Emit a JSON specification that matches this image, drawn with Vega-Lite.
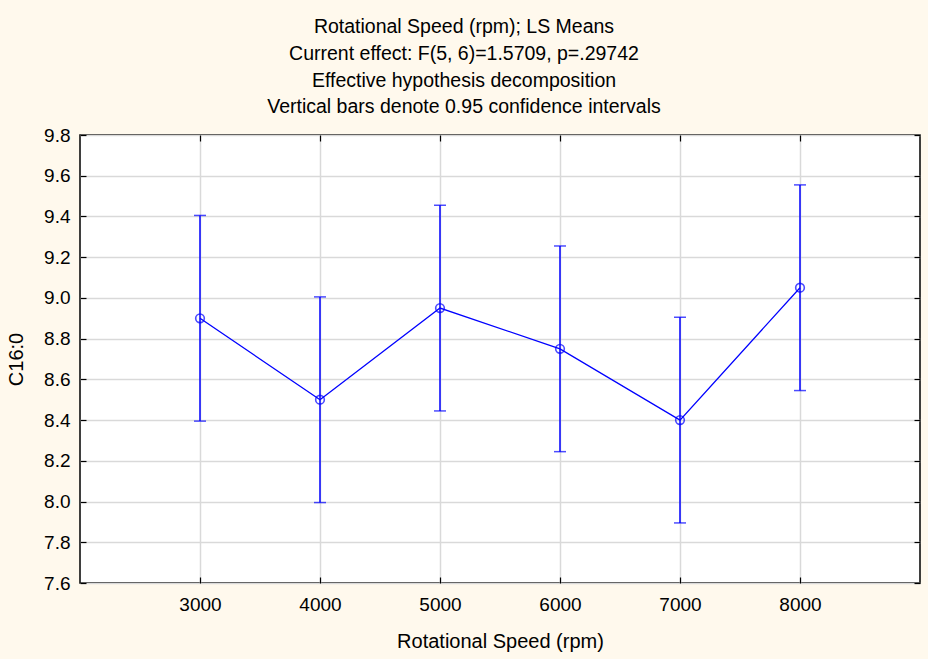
{
  "$schema": "https://vega.github.io/schema/vega-lite/v6.json",
  "width": 840,
  "height": 448,
  "autosize": {"type": "none"},
  "padding": {"left": 80, "top": 135, "right": 8, "bottom": 76},
  "background": "#FFF9ED",
  "title": {
    "text": ["Rotational Speed (rpm); LS Means", "Current effect: F(5, 6)=1.5709, p=.29742", "Effective hypothesis decomposition", "Vertical bars denote 0.95 confidence intervals"],
    "font": "Liberation Sans",
    "fontSize": 19.5,
    "fontWeight": "normal",
    "color": "#000000",
    "lineHeight": 26.7,
    "anchor": "middle",
    "dx": -36,
    "offset": 8
  },
  "config": {
    "view": {"fill": "#FFFFFF", "stroke": "#000000", "strokeWidth": 1.5},
    "axis": {
      "labelFont": "Liberation Sans",
      "titleFont": "Liberation Sans",
      "labelFontSize": 19,
      "titleFontSize": 20,
      "titleFontWeight": "normal",
      "labelColor": "#000000",
      "titleColor": "#000000",
      "domain": false,
      "tickColor": "#000000",
      "tickWidth": 1.2,
      "gridColor": "#D9D9D9",
      "gridWidth": 1.5,
      "gridOpacity": 1
    }
  },
  "data": {
    "values": [
      {"rpm": 3000, "mean": 8.90, "lo": 8.395, "hi": 9.405},
      {"rpm": 4000, "mean": 8.50, "lo": 7.995, "hi": 9.005},
      {"rpm": 5000, "mean": 8.95, "lo": 8.445, "hi": 9.455},
      {"rpm": 6000, "mean": 8.75, "lo": 8.245, "hi": 9.255},
      {"rpm": 7000, "mean": 8.40, "lo": 7.895, "hi": 8.905},
      {"rpm": 8000, "mean": 9.05, "lo": 8.545, "hi": 9.555}
    ]
  },
  "layer": [
    {
      "layer": [
        {
          "mark": {"type": "rule", "color": "#0000FF", "strokeWidth": 1.5},
          "encoding": {
            "x": {
              "field": "rpm", "type": "quantitative",
              "scale": {"domain": [2000, 9000], "nice": false, "zero": false},
              "axis": {
                "values": [3000, 4000, 5000, 6000, 7000, 8000],
                "format": "d",
                "title": "Rotational Speed (rpm)",
                "tickSize": -6,
                "labelPadding": 18,
                "titlePadding": 17,
                "grid": true
              }
            },
            "y": {
              "field": "lo", "type": "quantitative",
              "scale": {"domain": [7.6, 9.8], "nice": false, "zero": false},
              "axis": {
                "values": [7.6, 7.8, 8.0, 8.2, 8.4, 8.6, 8.8, 9.0, 9.2, 9.4, 9.6, 9.8],
                "format": ".1f",
                "title": "C16:0",
                "tickSize": -6,
                "labelPadding": 16,
                "titlePadding": 17,
                "grid": true
              }
            },
            "y2": {"field": "hi"}
          }
        },
        {
          "mark": {"type": "tick", "orient": "horizontal", "color": "#0000FF", "size": 12, "thickness": 1.5},
          "encoding": {
            "x": {"field": "rpm", "type": "quantitative"},
            "y": {"field": "lo", "type": "quantitative"}
          }
        },
        {
          "mark": {"type": "tick", "orient": "horizontal", "color": "#0000FF", "size": 12, "thickness": 1.5},
          "encoding": {
            "x": {"field": "rpm", "type": "quantitative"},
            "y": {"field": "hi", "type": "quantitative"}
          }
        },
        {
          "mark": {"type": "line", "color": "#0000FF", "strokeWidth": 1.3},
          "encoding": {
            "x": {"field": "rpm", "type": "quantitative"},
            "y": {"field": "mean", "type": "quantitative"}
          }
        }
      ]
    },
    {
      "mark": {"type": "point", "shape": "circle", "filled": false, "color": "#0000FF", "size": 75, "strokeWidth": 1.6},
      "encoding": {
        "x": {
          "field": "rpm", "type": "quantitative",
          "axis": {"orient": "top", "values": [3000, 4000, 5000, 6000, 7000, 8000], "labels": false, "title": null, "tickSize": -6, "grid": false}
        },
        "y": {
          "field": "mean", "type": "quantitative",
          "axis": {"orient": "right", "values": [7.6, 7.8, 8.0, 8.2, 8.4, 8.6, 8.8, 9.0, 9.2, 9.4, 9.6, 9.8], "labels": false, "title": null, "tickSize": -6, "grid": false}
        }
      }
    }
  ],
  "resolve": {"axis": {"x": "independent", "y": "independent"}}
}
